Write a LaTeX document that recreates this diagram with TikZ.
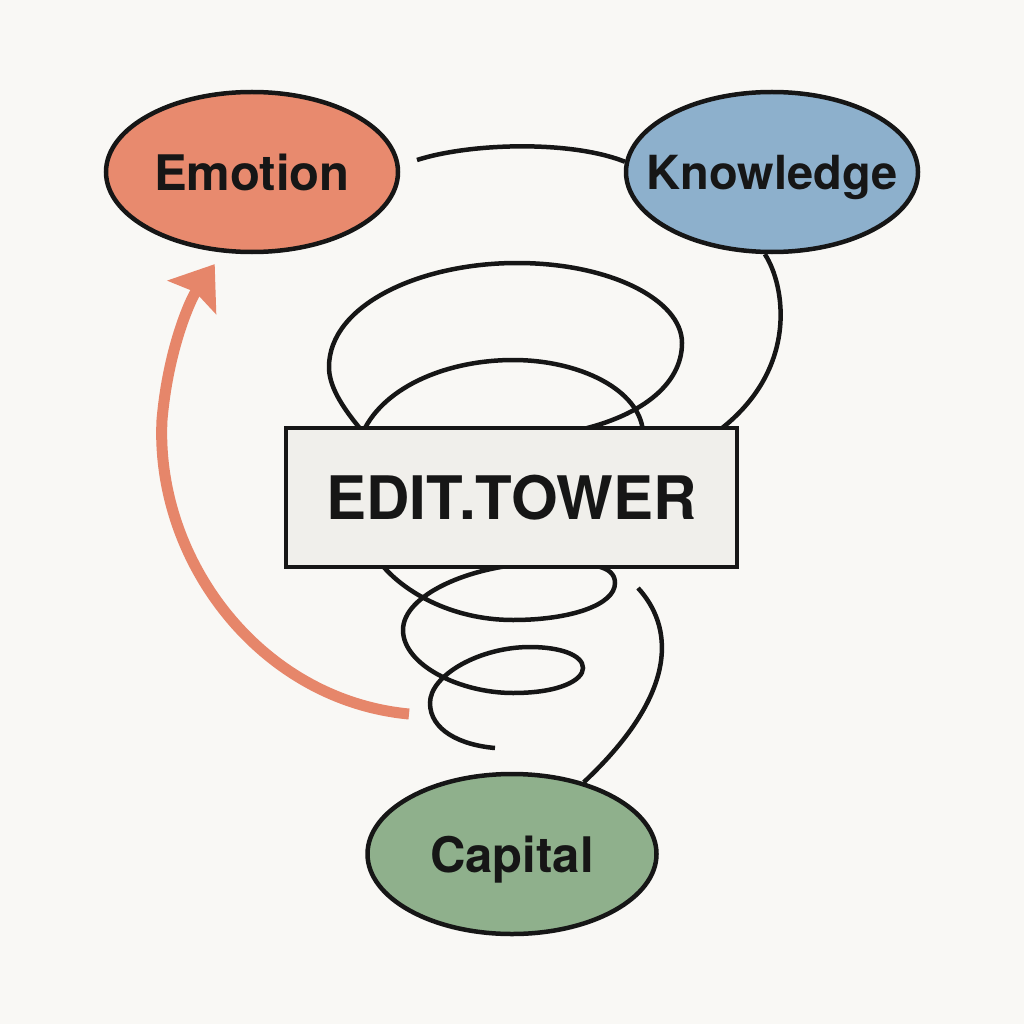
\documentclass[tikz,border=0pt]{standalone}
\usepackage{fontspec}
\setmainfont{TeX Gyre Heros}
\usetikzlibrary{shapes.geometric, arrows.meta, calc}
\pgfdeclarelayer{back}
\pgfsetlayers{back,main}
\definecolor{paper}{RGB}{249,248,245}
\definecolor{ink}{RGB}{22,22,22}
\definecolor{emofill}{RGB}{232,138,110}
\definecolor{knowfill}{RGB}{141,176,204}
\definecolor{capfill}{RGB}{143,176,140}
\definecolor{boxfill}{RGB}{240,239,235}
\definecolor{arrowred}{RGB}{230,134,106}
\begin{document}
\begin{tikzpicture}[x=1pt, y=-1pt,
  bubble/.style={ellipse, draw=ink, line width=4.5pt, minimum width=292pt, minimum height=160pt, inner xsep=-60pt, inner ysep=0pt, text depth=0pt, text=ink},
  coil/.style={draw=ink, line width=4.5pt}]
  \useasboundingbox (0,0) rectangle (1024,1024);
  % three nodes round the tower
  \node[bubble, fill=emofill, font=\bfseries\fontsize{49}{49}\selectfont] (emo) at (252,172) {Emotion};
  \node[bubble, fill=knowfill, font=\bfseries\fontsize{47}{47}\selectfont] (know) at (772,172) {Knowledge};
  \node[bubble, fill=capfill, minimum width=289pt, font=\bfseries\fontsize{49}{49}\selectfont] (cap) at (512,854) {Capital};
  \node[draw=ink, fill=boxfill, line width=4.5pt, minimum width=451pt, minimum height=139pt, text=ink, font=\bfseries\fontsize{60}{60}\selectfont] (tower) at (511.5,497.5) {EDIT.TOWER};
  % free ends
  \coordinate (ekstart) at (417,160);
  \coordinate (capstart) at (638,588);
  \coordinate (arrstart) at (409,714);
  \begin{pgfonlayer}{back}
    \fill[paper] (0,0) rectangle (1024,1024);
    % connectors
    \draw[coil] (ekstart) .. controls (470,143) and (570,140) .. (know.176);
    \draw[coil] (know.265) .. controls (785,285) and (800,370) .. (717,432);
    \draw[coil] (capstart) .. controls (672,625) and (682,690) .. (cap.45);
    % upper coil
    \draw[coil] (363,432) .. controls (340,405) and (329,385) .. (329,367)
      .. controls (329,305) and (420,263) .. (517,263)
      .. controls (610,263) and (682,300) .. (682,343)
      .. controls (682,385) and (640,418) .. (570,432);
    \draw[coil] (363,432) .. controls (385,385) and (450,360) .. (513,360)
      .. controls (580,360) and (640,390) .. (643,432);
    % lower coil
    \draw[coil] (378,560) .. controls (400,590) and (450,620) .. (513,620)
      .. controls (570,620) and (615,605) .. (615,583)
      .. controls (615,565) and (590,562) .. (540,563)
      .. controls (470,565) and (403,595) .. (403,630)
      .. controls (403,665) and (460,693) .. (513,693)
      .. controls (560,693) and (583,680) .. (583,668)
      .. controls (583,655) and (560,647) .. (530,647)
      .. controls (480,647) and (430,675) .. (430,703)
      .. controls (430,730) and (460,745) .. (495,748);
    % return arrow
    \draw[arrowred, line width=11pt, shorten >=14pt, -{Stealth[length=40pt, width=58pt, inset=6pt]}]
      (arrstart) .. controls (260,700) and (155,560) .. (162,420)
      .. controls (168,350) and (190,300) .. (emo.250);
  \end{pgfonlayer}
\end{tikzpicture}
\end{document}
